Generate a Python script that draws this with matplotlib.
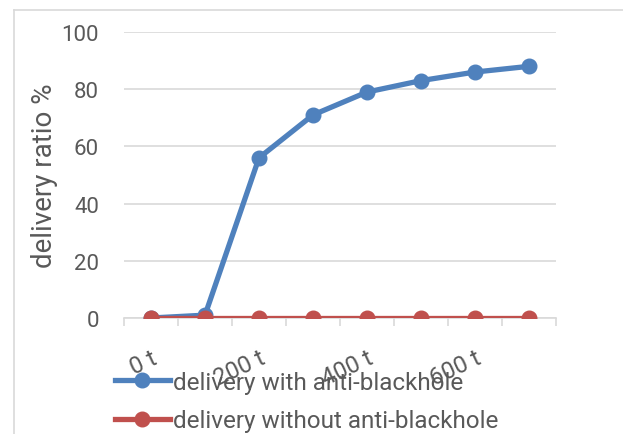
import matplotlib.pyplot as plt
from matplotlib.lines import Line2D

plt.rcParams['font.family'] = ['Roboto', 'DejaVu Sans']

# packets sent (t) vs delivery ratio
categories = ["0 t", "100 t", "200 t", "300 t", "400 t", "500 t", "600 t", "700 t"]
with_anti = [0, 1, 56, 71, 79, 83, 86, 88]
without_anti = [0, 0, 0, 0, 0, 0, 0, 0]

blue = "#4F81BD"
red = "#C0504D"
grid = "#D9D9D9"
txt = "#595959"

fig = plt.figure(figsize=(6.23, 4.35), dpi=100)
ax = fig.add_axes([124/623, 1 - 319/435, 432/623, 286/435])

x = list(range(len(categories)))
ax.plot(x, with_anti, color=blue, lw=3.8, marker="o", ms=10.5,
        label="delivery with anti-blackhole", zorder=3)
ax.plot(x, without_anti, color=red, lw=3.8, marker="o", ms=10.5,
        label="delivery without anti-blackhole", zorder=4)

ax.set_xlim(-0.5, len(categories) - 0.5)
ax.set_ylim(0, 100)
ax.set_yticks(range(0, 101, 20))
ax.yaxis.grid(True, color=grid, lw=1.2)
ax.set_axisbelow(True)

for s in ["left", "right", "top"]:
    ax.spines[s].set_visible(False)
ax.spines["bottom"].set_color(grid)
ax.spines["bottom"].set_linewidth(1.2)

ax.tick_params(axis="y", length=0, pad=18, labelsize=16, labelcolor=txt)
# category boundaries carry the tick marks, every other category gets a label
ax.set_xticks([i - 0.5 for i in range(len(categories) + 1)], minor=True)
ax.set_xticks(x[::2])
ax.set_xticklabels(categories[::2], rotation=25, ha="right", va="top",
                   rotation_mode="anchor")
ax.tick_params(axis="x", which="major", length=0, pad=20, labelsize=17, labelcolor=txt)
ax.tick_params(axis="x", which="minor", length=6, width=1.2, color=grid)

ax.set_ylabel("delivery ratio %", fontsize=20, color=txt)
ax.yaxis.set_label_coords(-0.153, 0.5)

fig.legend(loc="upper left", bbox_to_anchor=(115/623, 1 - 372/435),
           frameon=False, fontsize=17.5, handlelength=2.26, handletextpad=0.12,
           labelspacing=0.62, borderpad=0, borderaxespad=0, labelcolor=txt)

# outer chart frame
fig.add_artist(Line2D([14/623, 14/623], [0, 1 - 11/435], color=grid, lw=1.2))
fig.add_artist(Line2D([14/623, 1], [1 - 11/435, 1 - 11/435], color=grid, lw=1.2))

fig.savefig("out.png", dpi=100)
